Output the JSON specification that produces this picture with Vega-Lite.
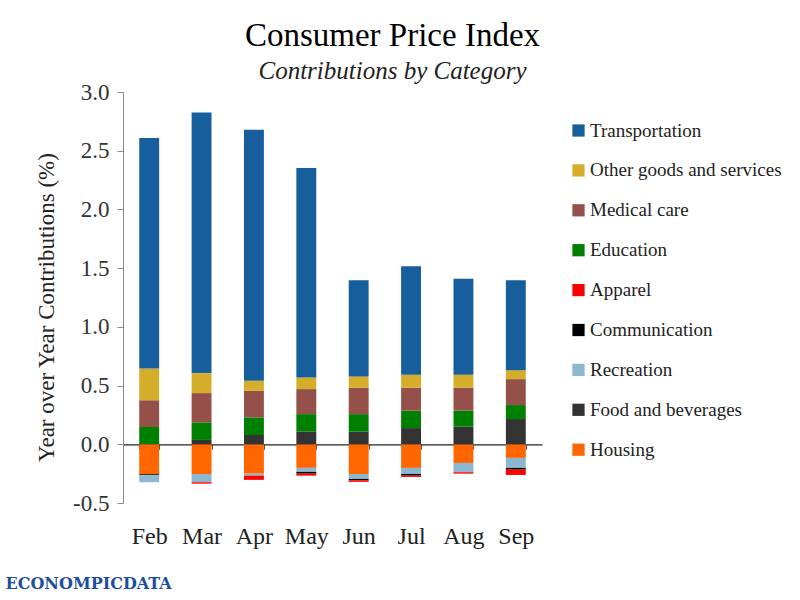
{
  "$schema": "https://vega.github.io/schema/vega-lite/v6.json",
  "width": 419,
  "height": 411,
  "autosize": {"type": "none"},
  "padding": {"top": 92, "left": 123, "right": 258, "bottom": 97},
  "background": "white",
  "config": {"view": {"stroke": null}, "font": "Liberation Serif"},
  "title": {
    "text": "Consumer Price Index",
    "subtitle": "Contributions by Category",
    "anchor": "middle",
    "frame": "group",
    "dx": 60,
    "offset": -3,
    "font": "Liberation Serif",
    "fontSize": 33,
    "fontWeight": "normal",
    "color": "#000000",
    "subtitleFont": "Liberation Serif",
    "subtitleFontStyle": "italic",
    "subtitleFontSize": 25,
    "subtitleColor": "#222222",
    "subtitlePadding": 6
  },
  "data": {
    "values": [
      {"month": "Feb", "category": "Housing", "value": -0.253},
      {"month": "Feb", "category": "Food and beverages", "value": -0.01},
      {"month": "Feb", "category": "Recreation", "value": -0.06},
      {"month": "Feb", "category": "Communication", "value": 0},
      {"month": "Feb", "category": "Apparel", "value": 0},
      {"month": "Feb", "category": "Education", "value": 0.147},
      {"month": "Feb", "category": "Medical care", "value": 0.228},
      {"month": "Feb", "category": "Other goods and services", "value": 0.27},
      {"month": "Feb", "category": "Transportation", "value": 1.963},
      {"month": "Mar", "category": "Housing", "value": -0.253},
      {"month": "Mar", "category": "Food and beverages", "value": 0.037},
      {"month": "Mar", "category": "Recreation", "value": -0.07},
      {"month": "Mar", "category": "Communication", "value": 0},
      {"month": "Mar", "category": "Apparel", "value": -0.012},
      {"month": "Mar", "category": "Education", "value": 0.15},
      {"month": "Mar", "category": "Medical care", "value": 0.249},
      {"month": "Mar", "category": "Other goods and services", "value": 0.17},
      {"month": "Mar", "category": "Transportation", "value": 2.22},
      {"month": "Apr", "category": "Housing", "value": -0.25},
      {"month": "Apr", "category": "Food and beverages", "value": 0.079},
      {"month": "Apr", "category": "Recreation", "value": -0.017},
      {"month": "Apr", "category": "Communication", "value": 0},
      {"month": "Apr", "category": "Apparel", "value": -0.036},
      {"month": "Apr", "category": "Education", "value": 0.15},
      {"month": "Apr", "category": "Medical care", "value": 0.226},
      {"month": "Apr", "category": "Other goods and services", "value": 0.085},
      {"month": "Apr", "category": "Transportation", "value": 2.139},
      {"month": "May", "category": "Housing", "value": -0.201},
      {"month": "May", "category": "Food and beverages", "value": 0.11},
      {"month": "May", "category": "Recreation", "value": -0.034},
      {"month": "May", "category": "Communication", "value": -0.015},
      {"month": "May", "category": "Apparel", "value": -0.017},
      {"month": "May", "category": "Education", "value": 0.147},
      {"month": "May", "category": "Medical care", "value": 0.213},
      {"month": "May", "category": "Other goods and services", "value": 0.099},
      {"month": "May", "category": "Transportation", "value": 1.784},
      {"month": "Jun", "category": "Housing", "value": -0.253},
      {"month": "Jun", "category": "Food and beverages", "value": 0.107},
      {"month": "Jun", "category": "Recreation", "value": -0.042},
      {"month": "Jun", "category": "Communication", "value": -0.011},
      {"month": "Jun", "category": "Apparel", "value": -0.014},
      {"month": "Jun", "category": "Education", "value": 0.15},
      {"month": "Jun", "category": "Medical care", "value": 0.224},
      {"month": "Jun", "category": "Other goods and services", "value": 0.097},
      {"month": "Jun", "category": "Transportation", "value": 0.818},
      {"month": "Jul", "category": "Housing", "value": -0.201},
      {"month": "Jul", "category": "Food and beverages", "value": 0.138},
      {"month": "Jul", "category": "Recreation", "value": -0.052},
      {"month": "Jul", "category": "Communication", "value": -0.014},
      {"month": "Jul", "category": "Apparel", "value": -0.011},
      {"month": "Jul", "category": "Education", "value": 0.148},
      {"month": "Jul", "category": "Medical care", "value": 0.195},
      {"month": "Jul", "category": "Other goods and services", "value": 0.111},
      {"month": "Jul", "category": "Transportation", "value": 0.925},
      {"month": "Aug", "category": "Housing", "value": -0.159},
      {"month": "Aug", "category": "Food and beverages", "value": 0.15},
      {"month": "Aug", "category": "Recreation", "value": -0.079},
      {"month": "Aug", "category": "Communication", "value": 0},
      {"month": "Aug", "category": "Apparel", "value": -0.012},
      {"month": "Aug", "category": "Education", "value": 0.136},
      {"month": "Aug", "category": "Medical care", "value": 0.195},
      {"month": "Aug", "category": "Other goods and services", "value": 0.111},
      {"month": "Aug", "category": "Transportation", "value": 0.818},
      {"month": "Sep", "category": "Housing", "value": -0.116},
      {"month": "Sep", "category": "Food and beverages", "value": 0.215},
      {"month": "Sep", "category": "Recreation", "value": -0.085},
      {"month": "Sep", "category": "Communication", "value": -0.015},
      {"month": "Sep", "category": "Apparel", "value": -0.045},
      {"month": "Sep", "category": "Education", "value": 0.119},
      {"month": "Sep", "category": "Medical care", "value": 0.221},
      {"month": "Sep", "category": "Other goods and services", "value": 0.076},
      {"month": "Sep", "category": "Transportation", "value": 0.765}
    ]
  },
  "transform": [
    {"lookup": "category", "from": {"data": {"values": [
      {"category": "Housing", "rank": 1},
      {"category": "Food and beverages", "rank": 2},
      {"category": "Recreation", "rank": 3},
      {"category": "Communication", "rank": 4},
      {"category": "Apparel", "rank": 5},
      {"category": "Education", "rank": 6},
      {"category": "Medical care", "rank": 7},
      {"category": "Other goods and services", "rank": 8},
      {"category": "Transportation", "rank": 9}
    ]}, "key": "category", "fields": ["rank"]}}
  ],
  "mark": {"type": "bar", "strokeWidth": 0},
  "encoding": {
    "x": {
      "field": "month",
      "type": "nominal",
      "sort": ["Feb", "Mar", "Apr", "May", "Jun", "Jul", "Aug", "Sep"],
      "scale": {"paddingInner": 0.62, "paddingOuter": 0.31},
      "axis": {
        "title": "ECONOMPICDATA",
        "titleFont": "DejaVu Serif",
        "titleFontWeight": "bold",
        "titleFontSize": 16,
        "titleColor": "#1d4f9e",
        "titleX": -118,
        "titleY": 139,
        "titleAlign": "left",
        "titleBaseline": "middle",
        "titleAngle": 0,
        "offset": -58.7,
        "labelAngle": 0,
        "labelFont": "Liberation Serif",
        "labelFontSize": 24,
        "labelColor": "#222222",
        "labelPadding": 75,
        "labelBaseline": "top",
        "domainColor": "#222222",
        "domainWidth": 1.2,
        "tickBand": "extent",
        "tickColor": "#555555",
        "tickSize": 5,
        "ticks": true
      }
    },
    "y": {
      "field": "value",
      "type": "quantitative",
      "stack": "zero",
      "scale": {"domain": [-0.5, 3.0], "nice": false},
      "axis": {
        "title": "Year over Year Contributions (%)",
        "titleFont": "Liberation Serif",
        "titleFontSize": 23,
        "titleFontWeight": "normal",
        "titleColor": "#222222",
        "titlePadding": 14,
        "titleY": 215,
        "values": [-0.5, 0, 0.5, 1, 1.5, 2, 2.5, 3],
        "labelExpr": "replace(format(datum.value, '.1f'), '\u2212', '-')",
        "labelFont": "Liberation Serif",
        "labelFontSize": 23,
        "labelColor": "#333333",
        "labelPadding": 8,
        "grid": false,
        "domainColor": "#888888",
        "tickColor": "#888888",
        "tickSize": 6
      }
    },
    "color": {
      "field": "category",
      "type": "nominal",
      "scale": {
        "domain": ["Transportation", "Other goods and services", "Medical care", "Education", "Apparel", "Communication", "Recreation", "Food and beverages", "Housing"],
        "range": ["#175e9c", "#d4ae2a", "#95504a", "#008000", "#ff0000", "#000000", "#8db6d1", "#333333", "#ff6600"]
      },
      "legend": {
        "title": null,
        "orient": "none",
        "legendX": 446,
        "legendY": 29,
        "padding": 0,
        "symbolType": "square",
        "symbolSize": 150,
        "symbolStrokeWidth": 0,
        "symbolOpacity": 1,
        "labelFont": "Liberation Serif",
        "labelFontSize": 19,
        "labelColor": "#222222",
        "labelOffset": 2,
        "labelLimit": 300,
        "rowPadding": 19.9
      }
    },
    "order": {"field": "rank", "type": "quantitative", "sort": "ascending"}
  }
}
